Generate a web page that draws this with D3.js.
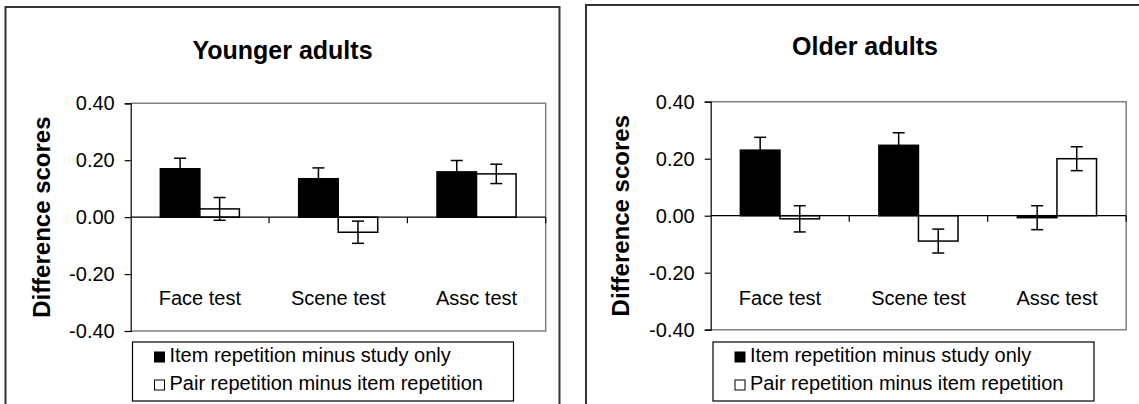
<!DOCTYPE html>
<html>
<head>
<meta charset="utf-8">
<script src="https://cdn.jsdelivr.net/npm/d3@7"></script>
<style>
  html, body { margin: 0; padding: 0; background: #fff; }
  text { font-family: "Liberation Sans", Arial, sans-serif; fill: #000; }
</style>
</head>
<body>
<div id="chart"></div>
<script>
var categories = ["Face test", "Scene test", "Assc test"];
var seriesNames = ["Item repetition minus study only", "Pair repetition minus item repetition"];
var yTicks = [0.4, 0.2, 0, -0.2, -0.4];

// younger adults
var youngItem = [0.170, 0.135, 0.159],
    youngItemErr = [0.037, 0.038, 0.040],
    youngPair = [0.029, -0.053, 0.152],
    youngPairErr = [0.040, 0.039, 0.034];

// older adults
var olderItem = [0.230, 0.247, -0.007],
    olderItemErr = [0.045, 0.044, 0.042],
    olderPair = [-0.011, -0.089, 0.200],
    olderPairErr = [0.046, 0.042, 0.042];

var svg_width = 1139,
    svg_height = 404;

var fmt = d3.formatLocale({decimal: ".", thousands: ",", grouping: [3], currency: ["$", ""], minus: "-"}).format(".2f");

var svg = d3.select("#chart").append("svg")
    .attr("width", svg_width)
    .attr("height", svg_height);

var DrawPanel = function (p) {
    var g = svg.append("g");

    // outer frame (open at the bottom / right edge of the picture)
    g.append("path")
        .attr("d", "M" + p.bx + "," + (svg_height + 5) + "V" + p.by + "H" + (p.bx + p.bw) + "V" + (svg_height + 5))
        .attr("fill", "none")
        .attr("stroke", "#333")
        .attr("stroke-width", 2);

    g.append("text")
        .attr("x", p.titleX)
        .attr("y", p.titleY)
        .attr("text-anchor", "middle")
        .attr("font-size", "25px")
        .attr("font-weight", "bold")
        .text(p.title);

    var x0 = d3.scaleBand().domain(categories).range([p.px, p.px + p.pw]);
    var x1 = d3.scaleBand().domain([0, 1]).range([0, x0.bandwidth()]).paddingOuter(0.75);
    var y = d3.scaleLinear().domain([-0.4, 0.4]).range([p.py + p.ph, p.py]);

    // plot area outline (grey)
    g.append("path")
        .attr("d", "M" + p.px + "," + y(0.4) + "H" + (p.px + p.pw) + "V" + y(-0.4) + "H" + p.px)
        .attr("fill", "none")
        .attr("stroke", "#808080")
        .attr("stroke-width", 1.5);

    var yAxis = g.append("g")
        .attr("transform", "translate(" + p.px + ",0)")
        .call(d3.axisLeft(y).tickValues(yTicks).tickFormat(fmt).tickSize(6).tickPadding(10));
    yAxis.selectAll("path, line").attr("stroke", "#000").attr("stroke-width", 1.2);
    yAxis.selectAll("text")
        .attr("font-size", "20px")
        .attr("font-family", "Liberation Sans, Arial, sans-serif")
        .attr("fill", "#000");

    g.append("text")
        .attr("transform", "translate(" + p.ylabX + "," + (p.py + p.ph / 2) + ") rotate(-90)")
        .attr("text-anchor", "middle")
        .attr("dominant-baseline", "central")
        .attr("font-size", "24px")
        .attr("font-weight", "bold")
        .text("Difference scores");

    // bars
    var rows = [];
    for (var i = 0; i < categories.length; i++) {
        rows.push({cat: categories[i], s: 0, v: p.item[i], e: p.itemErr[i]});
        rows.push({cat: categories[i], s: 1, v: p.pair[i], e: p.pairErr[i]});
    }

    g.selectAll(".bar").data(rows).enter().append("rect")
        .attr("class", "bar")
        .attr("x", function (d) { return x0(d.cat) + x1(d.s); })
        .attr("y", function (d) { return y(Math.max(0, d.v)); })
        .attr("width", x1.bandwidth())
        .attr("height", function (d) { return Math.max(1, Math.abs(y(d.v) - y(0))); })
        .attr("fill", function (d) { return d.s === 0 ? "#000" : "#fff"; })
        .attr("stroke", "#000")
        .attr("stroke-width", 1.5);

    // zero line with category ticks
    g.append("line")
        .attr("x1", p.px).attr("x2", p.px + p.pw)
        .attr("y1", y(0)).attr("y2", y(0))
        .attr("stroke", "#000").attr("stroke-width", 1.2);
    for (var k = 1; k <= categories.length; k++) {
        var tx = p.px + x0.step() * k;
        g.append("line")
            .attr("x1", tx).attr("x2", tx)
            .attr("y1", y(0)).attr("y2", y(0) + 6)
            .attr("stroke", "#000").attr("stroke-width", 1.2);
    }

    // error bars
    var eb = g.selectAll(".err").data(rows).enter().append("g").attr("class", "err");
    var cx = function (d) { return x0(d.cat) + x1(d.s) + x1.bandwidth() / 2; };
    eb.append("line")
        .attr("x1", cx).attr("x2", cx)
        .attr("y1", function (d) { return y(d.v + d.e); })
        .attr("y2", function (d) { return y(d.v - d.e); })
        .attr("stroke", "#000").attr("stroke-width", 1.5);
    [1, -1].forEach(function (sg) {
        eb.append("line")
            .attr("x1", function (d) { return cx(d) - 6; })
            .attr("x2", function (d) { return cx(d) + 6; })
            .attr("y1", function (d) { return y(d.v + sg * d.e); })
            .attr("y2", function (d) { return y(d.v + sg * d.e); })
            .attr("stroke", "#000").attr("stroke-width", 1.5);
    });

    // category labels
    g.selectAll(".cat").data(categories).enter().append("text")
        .attr("class", "cat")
        .attr("x", function (d) { return x0(d) + x0.bandwidth() / 2; })
        .attr("y", p.catY)
        .attr("text-anchor", "middle")
        .attr("font-size", "20px")
        .text(function (d) { return d; });

    // legend
    g.append("rect")
        .attr("x", p.lx).attr("y", p.ly)
        .attr("width", p.lw).attr("height", p.lh)
        .attr("fill", "#fff").attr("stroke", "#000").attr("stroke-width", 1.2);
    var lg = g.selectAll(".leg").data(seriesNames).enter().append("g").attr("class", "leg")
        .attr("transform", function (d, i) { return "translate(" + (p.lx + 22) + "," + (p.ly + 20 + i * 28) + ")"; });
    lg.append("rect")
        .attr("x", 0).attr("y", -10)
        .attr("width", 10).attr("height", 10)
        .attr("fill", function (d, i) { return i === 0 ? "#000" : "#fff"; })
        .attr("stroke", "#000").attr("stroke-width", 1);
    lg.append("text")
        .attr("x", 15).attr("y", 0)
        .attr("font-size", "20px")
        .text(function (d) { return d; });
};

DrawPanel({
    title: "Younger adults",
    bx: 5.5, by: 7, bw: 554,
    titleX: 282.5, titleY: 59,
    px: 130.7, py: 103.3, pw: 415, ph: 227.7,
    ylabX: 41, catY: 305,
    lx: 132.5, ly: 342, lw: 381, lh: 59,
    item: youngItem, itemErr: youngItemErr, pair: youngPair, pairErr: youngPairErr
});

DrawPanel({
    title: "Older adults",
    bx: 586, by: 5, bw: 560,
    titleX: 865, titleY: 54.5,
    px: 710.7, py: 101.7, pw: 415.5, ph: 228,
    ylabX: 620, catY: 305,
    lx: 713, ly: 342, lw: 381, lh: 59,
    item: olderItem, itemErr: olderItemErr, pair: olderPair, pairErr: olderPairErr
});
</script>
</body>
</html>
